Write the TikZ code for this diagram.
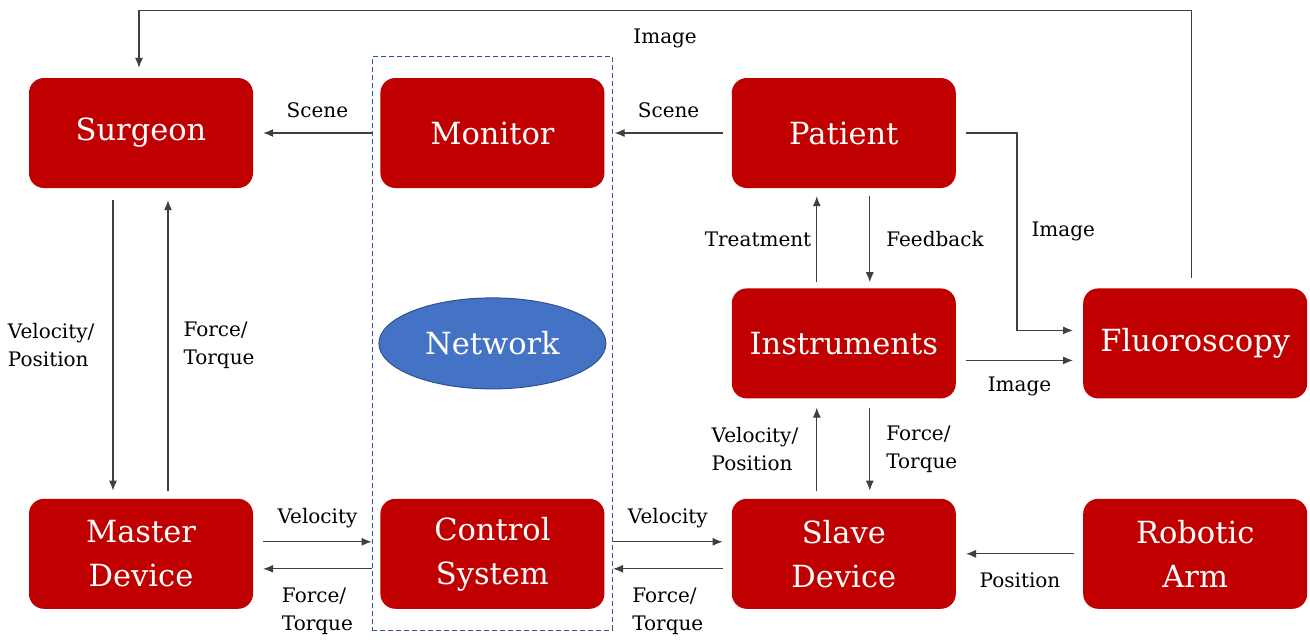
\documentclass[tikz,border=0pt]{standalone}
\usepackage{fontspec}
\setmainfont{DejaVu Serif}
\usetikzlibrary{positioning}
\usetikzlibrary{fit,shapes.geometric}
\usetikzlibrary{arrows.meta}
\definecolor{boxred}{HTML}{C00000}
\definecolor{netblue}{HTML}{4472C4}
\definecolor{netedge}{HTML}{2F528F}
\definecolor{dashblue}{HTML}{2F5597}
\tikzset{block/.style={draw=none,fill=boxred,rounded corners=15pt,
           minimum width=224pt,minimum height=110pt,inner sep=0pt,
           text=white,align=center,font=\fontsize{30.5}{44}\selectfont},
         cloudnet/.style={ellipse,fill=netblue,draw=netedge,line width=1pt,
           minimum width=227pt,minimum height=91pt,inner sep=0pt,
           text=white,font=\fontsize{30.5}{44}\selectfont},
         frame/.style={draw=dashblue,line width=1pt,dash pattern=on 5pt off 3pt,
           inner xsep=8pt,inner ysep=21pt},
         flow/.style={draw=black!75,line width=1.1pt,-{Latex[length=10pt,width=8pt]}},
         lbl/.style={inner sep=0pt,align=left,text=black,
           font=\fontsize{20}{28}\selectfont},
         node distance=100pt and 127pt}

\begin{document}
\begin{tikzpicture}[x=1pt,y=-1pt]
  \useasboundingbox (0,0) rectangle (1310,641);
  \node[block] (surgeon) at (141,133) {Surgeon};
  \node[block, right=of surgeon] (monitor) {Monitor};
  \node[block, right=of monitor] (patient) {Patient};
  \node[block, below=of patient] (instr) {Instruments};
  \node[block, right=of instr] (fluoro) {Fluoroscopy};
  \node[block, below=of instr] (slave) {Slave\\Device};
  \node[block, right=of slave] (arm) {Robotic\\Arm};
  \node[block, left=of slave] (control) {Control\\System};
  \node[block, left=of control] (master) {Master\\Device};
  \node[cloudnet] (net) at (monitor |- instr) {Network};
  \node[frame, fit=(monitor)(control)] (cloud) {};

  \draw[flow] (cloud.west |- surgeon) -- node[lbl,above=15pt] {Scene} ([xshift=10pt]surgeon.east);
  \draw[flow] ([xshift=-9pt]patient.west) -- node[lbl,above=15pt] {Scene} ([xshift=10pt]monitor.east);

  \draw[flow] ([xshift=-28pt,yshift=-12pt]surgeon.south) -- node[lbl,left=18pt] {Velocity/\\Position} ([xshift=-28pt,yshift=8pt]master.north);
  \draw[flow] ([xshift=27pt,yshift=8pt]master.north) -- node[lbl,right=15pt] {Force/\\Torque} ([xshift=27pt,yshift=-12pt]surgeon.south);

  \draw[flow] ([xshift=10pt,yshift=12pt]master.east) -- node[lbl,above=13pt] {Velocity} ([yshift=12pt]cloud.west |- master.east);
  \draw[flow] ([yshift=-15pt]cloud.west |- master.east) -- node[lbl,below=19pt] {Force/\\Torque} ([xshift=10pt,yshift=-15pt]master.east);
  \draw[flow] ([yshift=12pt]cloud.east |- slave.west) -- node[lbl,above=13pt] {Velocity} ([xshift=-9pt,yshift=12pt]slave.west);
  \draw[flow] ([xshift=-9pt,yshift=-15pt]slave.west) -- node[lbl,below=19pt] {Force/\\Torque} ([yshift=-15pt]cloud.east |- slave.west);
  \draw[flow] ([xshift=-9pt]arm.west) -- node[lbl,below=18pt] {Position} ([xshift=10pt]slave.east);

  \draw[flow] ([xshift=-27pt,yshift=8pt]slave.north) -- node[lbl,left=18pt] {Velocity/\\Position} ([xshift=-27pt,yshift=-9pt]instr.south);
  \draw[flow] ([xshift=26pt,yshift=-9pt]instr.south) -- node[lbl,right=16pt] {Force/\\Torque} ([xshift=26pt,yshift=8pt]slave.north);
  \draw[flow] ([xshift=-27pt,yshift=6pt]instr.north) -- node[lbl,left=5pt] {Treatment} ([xshift=-27pt,yshift=-8pt]patient.south);
  \draw[flow] ([xshift=26pt,yshift=-8pt]patient.south) -- node[lbl,right=16pt] {Feedback} ([xshift=26pt,yshift=6pt]instr.north);

  \draw[flow] ([xshift=10pt]patient.east) -- ++(51,0) |- node[lbl,pos=0.25,right=14pt] {Image} ([xshift=-10pt,yshift=13pt]fluoro.west);
  \draw[flow] ([xshift=10pt,yshift=-17pt]instr.east) -- node[lbl,below=16pt] {Image} ([xshift=-10pt,yshift=-17pt]fluoro.west);
  \draw[flow] ([xshift=-4pt,yshift=10pt]fluoro.north) -- ++(0,-268) -| node[lbl,pos=0.25,below=18pt] {Image} ([xshift=-2pt,yshift=10pt]surgeon.north);
\end{tikzpicture}
\end{document}
